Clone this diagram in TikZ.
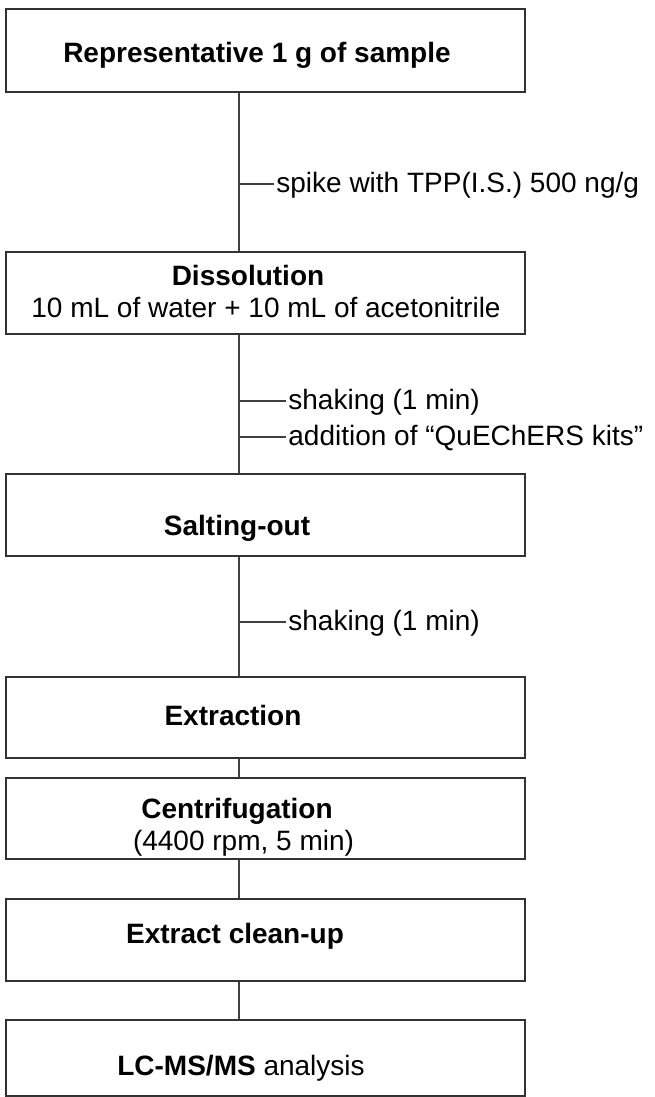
\documentclass[tikz,border=0pt]{standalone}
\usepackage{fontspec}
\setmainfont{Liberation Sans}
\usepackage{tikz}
\usetikzlibrary{calc}

\begin{document}
\begin{tikzpicture}[x=0.5pt, y=-0.5pt,
  caja/.style={draw=black!80, line width=1pt, rectangle, minimum width=259.5pt, inner sep=0pt},
  linea/.style={draw=black!75, line width=0.75pt},
  titulo/.style={font=\bfseries\fontsize{14}{16}\selectfont, anchor=base, inner sep=0pt},
  texto/.style={font=\fontsize{14}{16}\selectfont, anchor=base, inner sep=0pt},
  nota/.style={font=\fontsize{14}{16}\selectfont, anchor=west, inner sep=1pt, text height=10.2pt, text depth=2.2pt}]

  \useasboundingbox (0,0) rectangle (654,1097);

  % Cajas
  \foreach \y/\h [count=\i] in {50.5/41.5, 293/41, 515/41, 717.5/40.5, 818.5/40.5, 940/41, 1058/38} {
    \node[caja, minimum height=\h pt] (c\i) at (265.5,\y) {};
  }

  % Eje
  \coordinate (eje) at (239,0);
  \foreach \j [remember=\j as \i (initially 1)] in {2,...,7} {
    \draw[linea] (c\i.south -| eje) -- (c\j.north -| eje);
  }

  % Textos
  \node[titulo] (t1) at (257,63) {Representative 1 g of sample};
  \node[titulo] (t2) at (248,285) {Dissolution};
  \node[texto] (t2b) at (266,317) {10 mL of water + 10 mL of acetonitrile};
  \node[titulo] (t3) at (237,535) {Salting-out};
  \node[titulo] (t4) at (233,725) {Extraction};
  \node[titulo] (t5) at (237,818) {Centrifugation};
  \node[texto] (t5b) at (243.5,850) {(4400 rpm, 5 min)};
  \node[titulo] (t6) at (235,943) {Extract clean-up};
  \node[texto] (t7) at (241,1075) {\textbf{LC-MS/MS} analysis};

  % Notas
  \coordinate (m1) at (239,184);
  \coordinate (m2) at (239,401);
  \coordinate (m3) at (239,437);
  \coordinate (m4) at (239,622);
  \node[nota] (n1) at (274,184) {spike with TPP(I.S.) 500 ng/g};
  \node[nota] (n2) at (286,401) {shaking (1 min)};
  \node[nota] (n3) at (286,437) {addition of “QuEChERS kits”};
  \node[nota] (n4) at (286,622) {shaking (1 min)};
  \foreach \i in {1,...,4} {
    \draw[linea] (m\i) -- (n\i.west);
  }
\end{tikzpicture}
\end{document}
